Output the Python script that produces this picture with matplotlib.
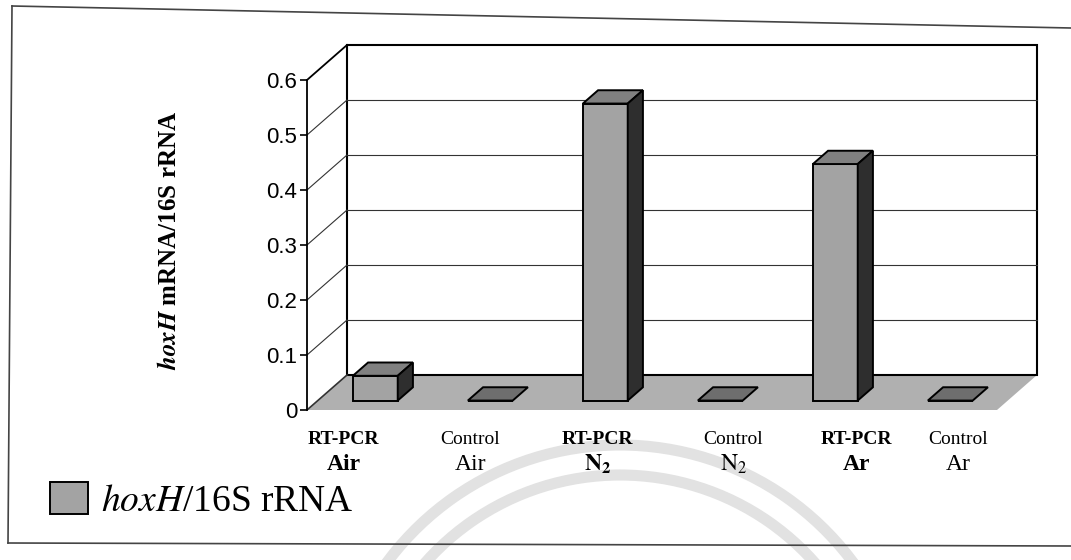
import matplotlib
matplotlib.use('Agg')
import matplotlib.pyplot as plt
from matplotlib.patches import Polygon, Arc
from matplotlib.lines import Line2D

plt.rcParams['font.family'] = ['Liberation Serif', 'DejaVu Serif']
plt.rcParams['mathtext.fontset'] = 'stix'

# data
methods = ['RT-PCR', 'Control', 'RT-PCR', 'Control', 'RT-PCR', 'Control']
gases = ['Air', 'Air', 'N2', 'N2', 'Ar', 'Ar']
ratio = [0.045, 0.0, 0.54, 0.0, 0.43, 0.0]
yticks = [0, 0.1, 0.2, 0.3, 0.4, 0.5, 0.6]

W, H = 1071, 560
fig = plt.figure(figsize=(W / 100, H / 100), dpi=100)
fig.patch.set_facecolor('white')

# front plane of the 3d box
ax = fig.add_axes([307 / W, 1 - 410 / H, 690 / W, 330 / H])
ax.set_xlim(-0.5, 5.5)
ax.set_ylim(0, 0.6)
for s in ['top', 'right', 'bottom']:
    ax.spines[s].set_visible(False)
ax.spines['left'].set_linewidth(1.3)
ax.patch.set_visible(False)
ax.set_xticks([])
ax.set_yticks(yticks)
ax.set_yticklabels(['0' if t == 0 else f'{t:.1f}' for t in yticks],
                   family=['Liberation Sans Narrow', 'Liberation Sans'], fontsize=16)
ax.tick_params(axis='y', length=5, width=1.2, pad=2)

# depth of the box in data units (40 px right, 35 px up)
DX = 40 / 115
DY = 35 / 550
x0, x1 = -0.5, 5.5

floor = Polygon([(x0, 0), (x1, 0), (x1 + DX, DY), (x0 + DX, DY)],
                closed=True, facecolor='#b0b0b0', edgecolor='none',
                clip_on=False, zorder=1)
ax.add_patch(floor)
wall = Polygon([(x0 + DX, DY), (x1 + DX, DY), (x1 + DX, 0.6 + DY), (x0 + DX, 0.6 + DY)],
               closed=True, facecolor='white', edgecolor='black', lw=1.5,
               clip_on=False, zorder=1)
ax.add_patch(wall)
ax.plot([x0, x0 + DX], [0.6, 0.6 + DY], color='black', lw=1.3, clip_on=False, zorder=2)

for t in yticks[:-1]:
    lw = 1.2 if t == 0 else 0.8
    ax.plot([x0, x0 + DX], [t, t + DY], color='#333333', lw=lw, clip_on=False, zorder=2)
    if t > 0:
        ax.plot([x0 + DX, x1 + DX], [t + DY, t + DY], color='#333333', lw=0.8,
                clip_on=False, zorder=2)

# bars: front face at 27% of depth, back face at 65%
f0, f1 = 0.27, 0.65
bw = 0.39
dd = f1 - f0
xs = range(len(ratio))
bars = ax.bar([i + f0 * DX for i in xs], ratio, width=bw, bottom=f0 * DY,
              color='#a3a3a3', edgecolor='black', linewidth=1.4, zorder=4,
              clip_on=False, label=r'$\mathit{hoxH}$/16S rRNA')
for i, v in zip(xs, ratio):
    left = i + f0 * DX - bw / 2
    base = f0 * DY
    top = [(left, base + v), (left + bw, base + v),
           (left + bw + dd * DX, base + v + dd * DY), (left + dd * DX, base + v + dd * DY)]
    ax.add_patch(Polygon(top, closed=True, facecolor='#6e6e6e' if v == 0 else '#808080',
                         edgecolor='black', lw=1.4, zorder=5, clip_on=False))
    if v > 0:
        side = [(left + bw, base), (left + bw + dd * DX, base + dd * DY),
                (left + bw + dd * DX, base + v + dd * DY), (left + bw, base + v)]
        ax.add_patch(Polygon(side, closed=True, facecolor='#2e2e2e',
                             edgecolor='black', lw=1.4, zorder=5, clip_on=False))

# category labels
label_shift = [-21, -9, 3, 24, 32, 19]
for i, (m, g) in enumerate(zip(methods, gases)):
    bold = m == 'RT-PCR'
    ax.annotate(m, xy=(i, 0), xytext=(label_shift[i], -30), textcoords='offset pixels',
                ha='center', va='center', fontsize=14,
                fontweight='bold' if bold else 'normal', annotation_clip=False)
    if g == 'N2':
        gtxt = r'$\mathbf{N}_{\mathbf{2}}$' if bold else r'$\mathrm{N}_{2}$'
    else:
        gtxt = g
    ax.annotate(gtxt, xy=(i, 0), xytext=(label_shift[i], -54), textcoords='offset pixels',
                ha='center', va='center', fontsize=17,
                fontweight='bold' if bold else 'normal', annotation_clip=False)

fig.text(170 / W, 1 - 240 / H, r'$\mathbfit{hoxH}$ mRNA/16S rRNA', rotation=90,
         ha='center', va='center', fontsize=18, fontweight='bold')

fig.legend(handles=[bars[0]], labels=[r'$\mathit{hoxH}$/16S rRNA'],
           loc='lower left', bbox_to_anchor=(24 / W, 15 / H), frameon=False,
           fontsize=27, handlelength=1.0, handleheight=0.95, handletextpad=0.35,
           borderpad=0.2)

# outer frame of the scanned figure
for xsf, ysf in [([12, 1071], [6, 28]), ([12, 8], [6, 543]), ([8, 1071], [543, 546])]:
    fig.add_artist(Line2D([x / W for x in xsf], [1 - y / H for y in ysf],
                          transform=fig.transFigure, color='#444444', lw=1.2))

# faint watermark arcs from the scan
for r in (290, 260):
    fig.add_artist(Arc((620, H - 735), 2 * r, 2 * r, theta1=20, theta2=160,
                       transform=None, color='#e2e2e2', lw=8, zorder=0))

fig.savefig('out.png', dpi=100, facecolor='white')
